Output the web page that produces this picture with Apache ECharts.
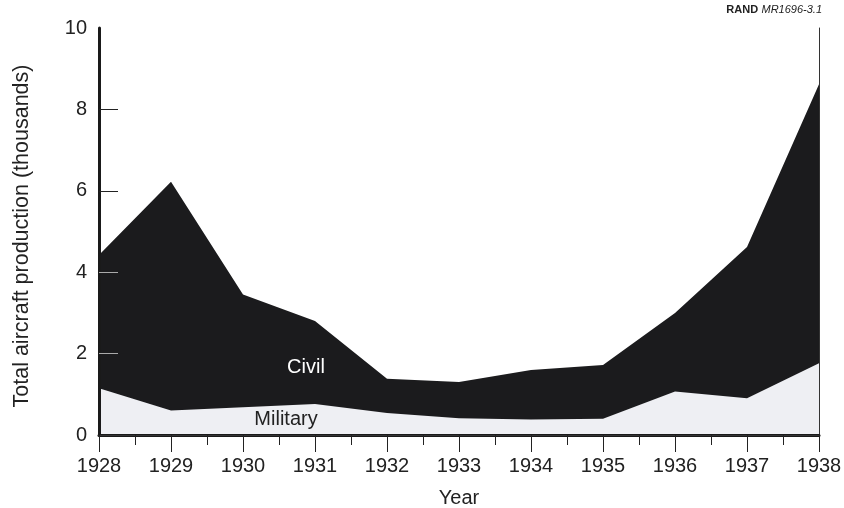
<!DOCTYPE html>
<html>
<head>
<meta charset="utf-8">
<script src="https://cdn.jsdelivr.net/npm/echarts@6/dist/echarts.min.js"></script>
<style>
  html, body { margin: 0; padding: 0; background: #fff; }
  #main { width: 844px; height: 508px; }
</style>
</head>
<body>
<div id="main"></div>
<script>
// years on the x axis
var years = [1928, 1929, 1930, 1931, 1932, 1933, 1934, 1935, 1936, 1937, 1938];
// total production (civil + military), thousands
var totalValues = [4.42, 6.22, 3.45, 2.80, 1.38, 1.30, 1.60, 1.72, 3.00, 4.62, 8.62];
// military production, thousands
var militaryValues = [1.15, 0.60, 0.68, 0.76, 0.54, 0.41, 0.38, 0.40, 1.07, 0.90, 1.76];
var yTicks = [0, 2, 4, 6, 8, 10];

var font = "'Liberation Sans', Arial, sans-serif";
var chart = echarts.init(document.getElementById("main"));

function pairs(vals) {
  return years.map(function (y, i) { return [y, vals[i]]; });
}

var option = {
  animation: false,
  textStyle: { fontFamily: font },
  grid: { left: 99, right: 25, top: 28, bottom: 73, outerBoundsMode: "none" },
  xAxis: [
    {
      type: "value",
      min: 1928,
      max: 1938,
      interval: 1,
      name: "Year",
      nameLocation: "middle",
      nameGap: 53,
      nameTextStyle: { fontSize: 20, color: "#222", fontFamily: font },
      axisLine: { lineStyle: { color: "#1a1a1a", width: 3 } },
      axisTick: { length: 17, lineStyle: { color: "#222", width: 1 } },
      minorTick: { show: true, splitNumber: 2, length: 10, lineStyle: { color: "#222", width: 1 } },
      axisLabel: { fontSize: 20, color: "#222", margin: 21, formatter: function (v) { return String(v); } },
      splitLine: { show: false },
      z: 5
    },
    {
      type: "value",
      position: "top",
      min: 1928,
      max: 1938,
      axisLine: { lineStyle: { color: "#333", width: 1 } },
      axisTick: { show: false },
      axisLabel: { show: false },
      splitLine: { show: false },
      z: 5
    }
  ],
  yAxis: [
    {
      type: "value",
      min: 0,
      max: 10,
      interval: 2,
      axisLine: { show: true, lineStyle: { color: "#1a1a1a", width: 3 } },
      axisTick: { show: true, inside: true, length: 19, customValues: [6, 8], lineStyle: { color: "#222", width: 1 } },
      axisLabel: { fontSize: 20, color: "#222", margin: 12, customValues: yTicks },
      splitLine: { show: false },
      z: 5
    },
    {
      type: "value",
      position: "left",
      min: 0,
      max: 10,
      axisLine: { show: false },
      axisTick: { show: true, inside: true, length: 19, customValues: [2, 4], lineStyle: { color: "#aaa", width: 1 } },
      axisLabel: { show: false },
      splitLine: { show: false },
      z: 5
    },
    {
      type: "value",
      position: "right",
      min: 0,
      max: 10,
      axisLine: { show: true, lineStyle: { color: "#333", width: 1 } },
      axisTick: { show: false },
      axisLabel: { show: false },
      splitLine: { show: false },
      z: 5
    }
  ],
  series: [
    {
      name: "Civil",
      type: "line",
      data: pairs(totalValues),
      symbol: "none",
      lineStyle: { width: 0 },
      areaStyle: { color: "#1b1b1d", opacity: 1 },
      z: 2
    },
    {
      name: "Military",
      type: "line",
      data: pairs(militaryValues),
      symbol: "none",
      lineStyle: { width: 0 },
      areaStyle: { color: "#eeeff3", opacity: 1 },
      z: 3
    }
  ],
  graphic: [
    {
      // y axis title
      type: "text",
      x: 22,
      y: 236,
      rotation: Math.PI / 2,
      z: 10,
      style: { text: "Total aircraft production (thousands)", fill: "#222", font: "21.5px " + font, align: "center", verticalAlign: "middle" }
    },
    {
      type: "text",
      x: 306,
      y: 367,
      z: 10,
      style: { text: "Civil", fill: "#fff", font: "20px " + font, align: "center", verticalAlign: "middle" }
    },
    {
      type: "text",
      x: 286,
      y: 419,
      z: 10,
      style: { text: "Military", fill: "#222", font: "20px " + font, align: "center", verticalAlign: "middle" }
    },
    {
      type: "text",
      right: 22,
      top: 4,
      z: 10,
      style: {
        text: "{b|RAND} {i|MR1696-3.1}",
        rich: {
          b: { fontWeight: "bold", fontSize: 11, fill: "#222", fontFamily: font },
          i: { fontStyle: "italic", fontSize: 11, fill: "#222", fontFamily: font }
        }
      }
    }
  ]
};
chart.setOption(option);
</script>
</body>
</html>
